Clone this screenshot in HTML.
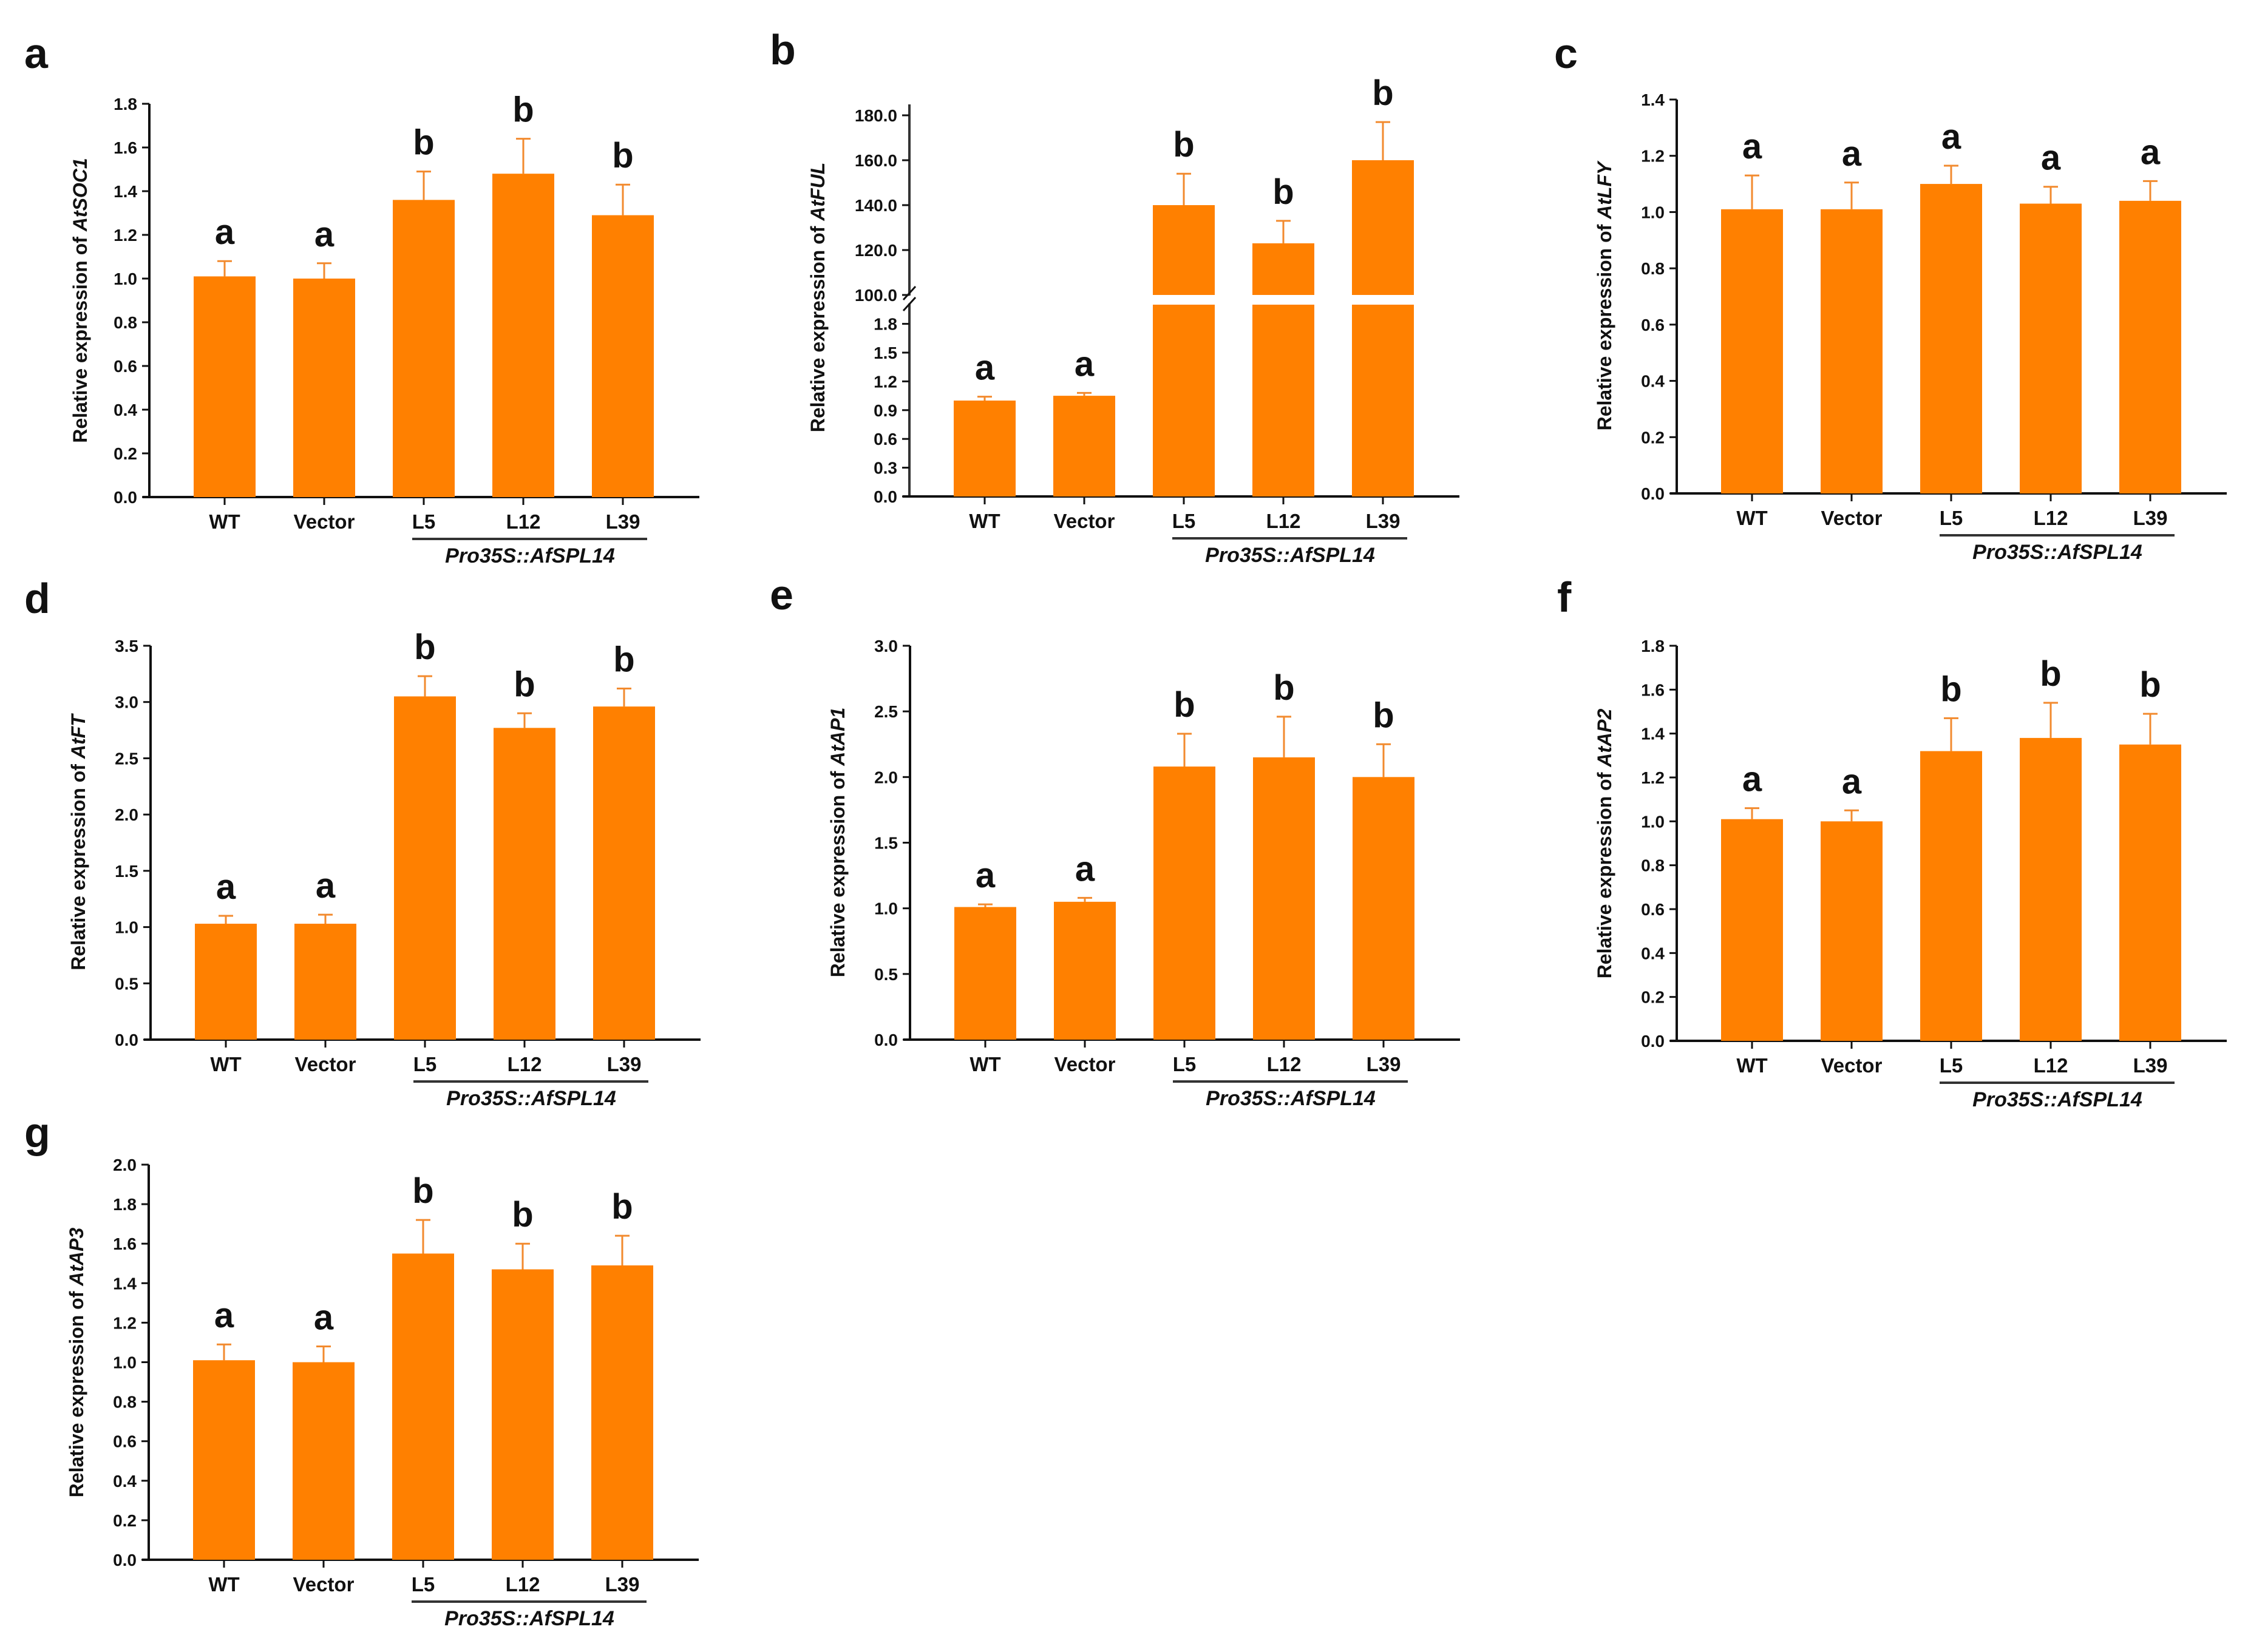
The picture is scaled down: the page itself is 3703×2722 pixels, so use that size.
<!DOCTYPE html>
<html><head><meta charset="utf-8"><style>
html,body{margin:0;padding:0;background:#fff;}
svg{display:block;}
text{font-family:"Liberation Sans",Arial,sans-serif;}
</style></head><body>
<svg id="fig" width="3703" height="2722" viewBox="0 0 3703 2722" xmlns="http://www.w3.org/2000/svg"></svg>
<script>
// ---- data ----
const categories = ["WT","Vector","L5","L12","L39"];
const groupLabel = "Pro35S::AfSPL14";
const socMeans = [1.01,1.00,1.36,1.48,1.29];
const socErr   = [0.07,0.07,0.13,0.16,0.14];
const socSig   = ["a","a","b","b","b"];
const socTicks = ["0.0","0.2","0.4","0.6","0.8","1.0","1.2","1.4","1.6","1.8"];
const fulMeans = [1.00,1.05,140,123,160];
const fulErr   = [0.04,0.03,14,10,17];
const fulSig   = ["a","a","b","b","b"];
const fulLowTicks = ["0.0","0.3","0.6","0.9","1.2","1.5","1.8"];
const fulHighTicks = ["100.0","120.0","140.0","160.0","180.0"];
const lfyMeans = [1.01,1.01,1.10,1.03,1.04];
const lfyErr   = [0.12,0.095,0.065,0.06,0.07];
const lfySig   = ["a","a","a","a","a"];
const lfyTicks = ["0.0","0.2","0.4","0.6","0.8","1.0","1.2","1.4"];
const ftMeans = [1.03,1.03,3.05,2.77,2.96];
const ftErr   = [0.07,0.08,0.18,0.13,0.16];
const ftSig   = ["a","a","b","b","b"];
const ftTicks = ["0.0","0.5","1.0","1.5","2.0","2.5","3.0","3.5"];
const ap1Means = [1.01,1.05,2.08,2.15,2.00];
const ap1Err   = [0.02,0.03,0.25,0.31,0.25];
const ap1Sig   = ["a","a","b","b","b"];
const ap1Ticks = ["0.0","0.5","1.0","1.5","2.0","2.5","3.0"];
const ap2Means = [1.01,1.00,1.32,1.38,1.35];
const ap2Err   = [0.05,0.05,0.15,0.16,0.14];
const ap2Sig   = ["a","a","b","b","b"];
const ap2Ticks = ["0.0","0.2","0.4","0.6","0.8","1.0","1.2","1.4","1.6","1.8"];
const ap3Means = [1.01,1.00,1.55,1.47,1.49];
const ap3Err   = [0.08,0.08,0.17,0.13,0.15];
const ap3Sig   = ["a","a","b","b","b"];
const ap3Ticks = ["0.0","0.2","0.4","0.6","0.8","1.0","1.2","1.4","1.6","1.8","2.0"];

const NS="http://www.w3.org/2000/svg";
const svg=document.getElementById('fig');
const ORANGE="#ff8000", EB="#f28a2e";
function mk(tag,attrs,parent,txt){const e=document.createElementNS(NS,tag);for(const k in attrs)e.setAttribute(k,attrs[k]);if(txt!==undefined)e.textContent=txt;(parent||svg).appendChild(e);return e;}

function frame(g,p){
  const xa=mk('line',{x1:p.ax-11,y1:p.zero,x2:p.ax+906,y2:p.zero,stroke:'#111','stroke-width':4},g);
  
  
  categories.forEach((c,i)=>{
    const cx=p.ax+124+164*i;
    mk('line',{x1:cx,y1:p.zero,x2:cx,y2:p.zero+13,stroke:'#111','stroke-width':3},g);
    const t=mk('text',{x:cx,y:p.zero+52,'text-anchor':'middle','font-size':33,'font-weight':'bold',fill:'#111'},g,c);
    
    
  });
  const ul=mk('line',{x1:p.ax+433,y1:p.zero+69,x2:p.ax+820,y2:p.zero+69,stroke:'#333','stroke-width':4},g);
  
  
  const gl=mk('text',{x:p.ax+627,y:p.zero+108,'text-anchor':'middle','font-size':34,'font-weight':'bold','font-style':'italic',fill:'#111'},g,groupLabel);
  
  
  const tx=p.ax-p.titleOff, ty=p.titleY;
  const yt=mk('text',{x:tx,y:ty,'text-anchor':'middle','font-size':32,'font-weight':'bold',fill:'#111',transform:`rotate(-90 ${tx} ${ty})`},g);
  
  
  mk('tspan',{},yt,'Relative expression of ');
  mk('tspan',{'font-style':'italic'},yt,p.gene);
  const pl=mk('text',{x:p.lx,y:p.ly,'font-size':70,'font-weight':'bold',fill:'#111'},g,p.letter);
  
  
}

function bars(g,p,means,errs,sigs,yf,broken){
  means.forEach((v,i)=>{
    const cx=p.ax+124+164*i, w=102;
    const top=yf(v), et=yf(v+errs[i]);
    mk('line',{x1:cx,y1:top,x2:cx,y2:et,stroke:EB,'stroke-width':3},g);
    mk('line',{x1:cx-12,y1:et,x2:cx+12,y2:et,stroke:EB,'stroke-width':3},g);
    if(broken && v>2){
      const b1=mk('rect',{x:cx-w/2,y:yf(2),width:w,height:p.zero-yf(2),fill:ORANGE},g);
      
      
      const b2=mk('rect',{x:cx-w/2,y:top,width:w,height:yf(100)-top,fill:ORANGE},g);
      
      
    } else {
      const b=mk('rect',{x:cx-w/2,y:top,width:w,height:p.zero-top,fill:ORANGE},g);
      
      
    }
    const s=mk('text',{x:cx,y:et-28,'text-anchor':'middle','font-size':58,'font-weight':'bold',fill:'#111'},g,sigs[i]);
    
    
  });
}

function simplePanel(p,means,errs,sigs,ticks){
  const g=mk('g',{});
  
  
  const max=parseFloat(ticks[ticks.length-1]);
  const yf=v=>p.zero-(v/max)*(p.zero-p.top);
  const ya=mk('line',{x1:p.ax,y1:p.zero,x2:p.ax,y2:p.top,stroke:'#111','stroke-width':4},g);
  
  
  ticks.forEach(t=>{
    const y=yf(parseFloat(t));
    mk('line',{x1:p.ax-12,y1:y,x2:p.ax,y2:y,stroke:'#111','stroke-width':3},g);
    const tl=mk('text',{x:p.ax-20,y:y+10,'text-anchor':'end','font-size':28,'font-weight':'bold',fill:'#111'},g,t);
    
    
  });
  frame(g,p);
  bars(g,p,means,errs,sigs,yf,false);
}

function brokenPanel(p){
  const g=mk('g',{});
  
  
  const lowTop=502, highBase=486, highMax=190;
  const yf=v=> v<=2 ? p.zero-(v/2)*(p.zero-lowTop) : highBase-((v-100)/80)*(highBase-highMax);
  const ya1=mk('line',{x1:p.ax,y1:p.zero,x2:p.ax,y2:500,stroke:'#333','stroke-width':4},g);
  
  
  const ya2=mk('line',{x1:p.ax,y1:487,x2:p.ax,y2:172,stroke:'#333','stroke-width':4},g);
  
  
  mk('line',{x1:p.ax-10,y1:494,x2:p.ax+10,y2:472,stroke:'#111','stroke-width':3},g);
  mk('line',{x1:p.ax-10,y1:512,x2:p.ax+10,y2:490,stroke:'#111','stroke-width':3},g);
  fulLowTicks.concat(fulHighTicks).forEach(t=>{
    const y=yf(parseFloat(t));
    mk('line',{x1:p.ax-12,y1:y,x2:p.ax,y2:y,stroke:'#111','stroke-width':3},g);
    const tl=mk('text',{x:p.ax-20,y:y+10,'text-anchor':'end','font-size':28,'font-weight':'bold',fill:'#111'},g,t);
    
    
  });
  frame(g,p);
  bars(g,p,fulMeans,fulErr,fulSig,yf,true);
}

simplePanel({letter:'a',ax:246,zero:819,top:171,gene:'AtSOC1',titleOff:103,titleY:495,lx:40,ly:112},socMeans,socErr,socSig,socTicks);
brokenPanel({letter:'b',ax:1498,zero:818,top:190,gene:'AtFUL',titleOff:140,titleY:490,lx:1268,ly:106});
simplePanel({letter:'c',ax:2762,zero:813,top:164,gene:'AtLFY',titleOff:108,titleY:488,lx:2560,ly:112},lfyMeans,lfyErr,lfySig,lfyTicks);
simplePanel({letter:'d',ax:248,zero:1713,top:1064,gene:'AtFT',titleOff:108,titleY:1388,lx:40,ly:1010},ftMeans,ftErr,ftSig,ftTicks);
simplePanel({letter:'e',ax:1499,zero:1713,top:1064,gene:'AtAP1',titleOff:108,titleY:1388,lx:1268,ly:1004},ap1Means,ap1Err,ap1Sig,ap1Ticks);
simplePanel({letter:'f',ax:2762,zero:1715,top:1064,gene:'AtAP2',titleOff:108,titleY:1390,lx:2565,ly:1008},ap2Means,ap2Err,ap2Sig,ap2Ticks);
simplePanel({letter:'g',ax:245,zero:2570,top:1919,gene:'AtAP3',titleOff:108,titleY:2245,lx:40,ly:1890},ap3Means,ap3Err,ap3Sig,ap3Ticks);
</script>
</body></html>
